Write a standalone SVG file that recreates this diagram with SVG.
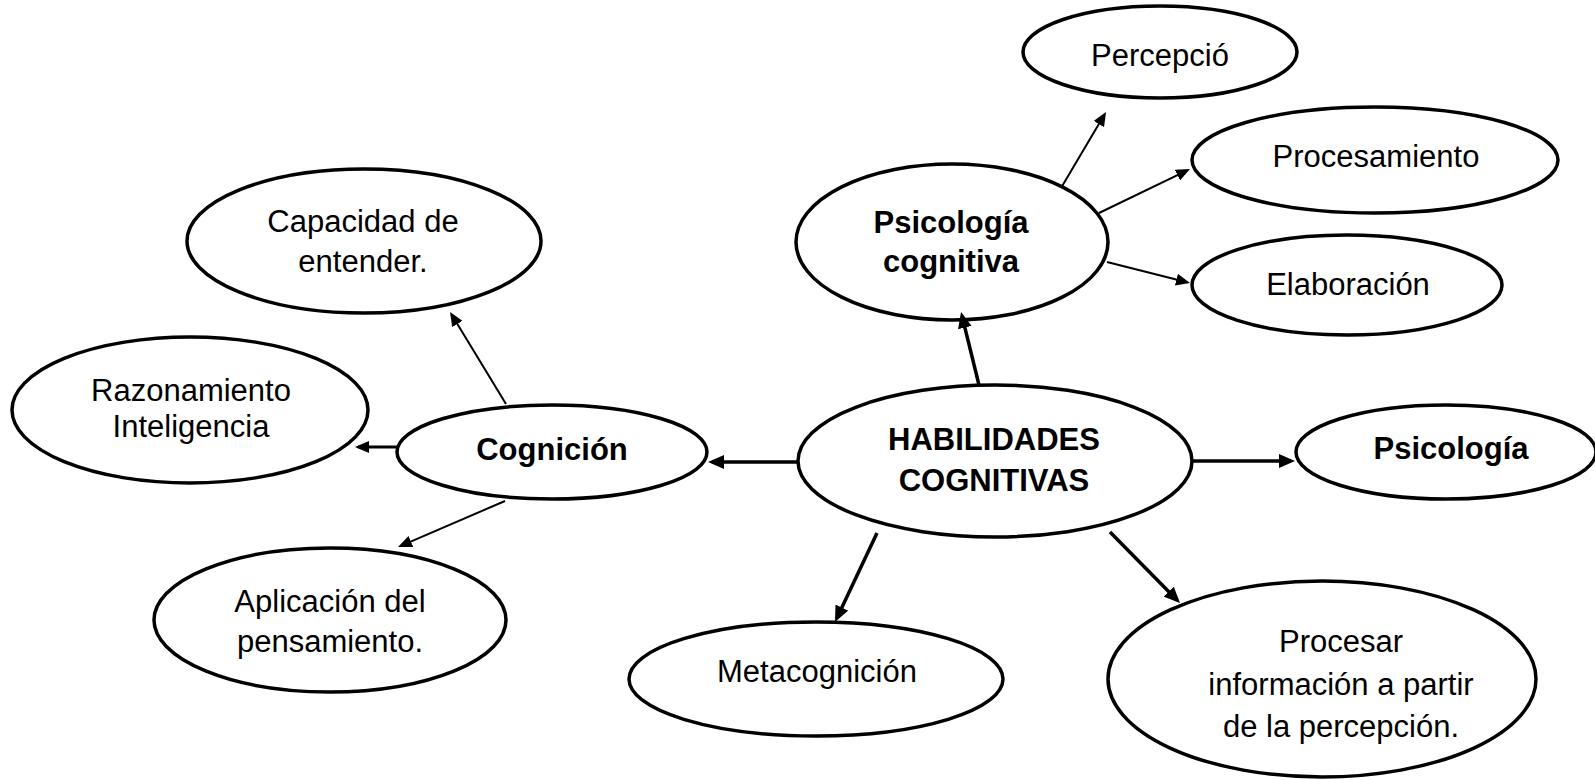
<svg xmlns="http://www.w3.org/2000/svg" width="1595" height="780" viewBox="0 0 1595 780">
<style>
.node ellipse{fill:#fff;stroke:#000;stroke-width:3.5}
text{font-family:"Liberation Sans",Arial,sans-serif;font-size:31px;fill:#000;text-anchor:middle}
.b{font-weight:bold}
.thin{stroke:#000;stroke-width:2;fill:none}
.thick{stroke:#000;stroke-width:3.5;fill:none}
</style>
<defs>
<marker id="ah" markerUnits="userSpaceOnUse" markerWidth="14" markerHeight="12" refX="11" refY="6" orient="auto">
<path d="M0,0 L14,6 L0,12 z" fill="#000"/>
</marker>
<marker id="ahb" markerUnits="userSpaceOnUse" markerWidth="16" markerHeight="14" refX="12" refY="7" orient="auto">
<path d="M0,0 L16,7 L0,14 z" fill="#000"/>
</marker>
</defs>
<rect width="1595" height="780" fill="#fff"/>
<g id="n-percepcio" class="node"><ellipse cx="1160" cy="52" rx="137" ry="46"/><text x="1160" y="66">Percepció</text></g>
<g id="n-procesamiento" class="node"><ellipse cx="1375" cy="160" rx="183" ry="53"/><text x="1376" y="167">Procesamiento</text></g>
<g id="n-psicologia-cognitiva" class="node"><ellipse cx="952" cy="242" rx="156" ry="78"/><text class="b" x="951" y="233">Psicología</text><text class="b" x="951" y="272">cognitiva</text></g>
<g id="n-elaboracion" class="node"><ellipse cx="1347" cy="285" rx="155" ry="50"/><text x="1348" y="295">Elaboración</text></g>
<g id="n-capacidad" class="node"><ellipse cx="364" cy="241" rx="177" ry="72"/><text x="363" y="232">Capacidad de</text><text x="363" y="272">entender.</text></g>
<g id="n-razonamiento" class="node"><ellipse cx="190" cy="410" rx="178" ry="73"/><text x="191" y="401">Razonamiento</text><text x="191" y="437">Inteligencia</text></g>
<g id="n-cognicion" class="node"><ellipse cx="552" cy="452" rx="155" ry="47"/><text class="b" x="552" y="460">Cognición</text></g>
<g id="n-habilidades" class="node"><ellipse cx="995" cy="461" rx="197" ry="76"/><text class="b" x="994" y="450">HABILIDADES</text><text class="b" x="994" y="491">COGNITIVAS</text></g>
<g id="n-psicologia" class="node"><ellipse cx="1446" cy="452" rx="150" ry="47"/><text class="b" x="1451" y="459">Psicología</text></g>
<g id="n-aplicacion" class="node"><ellipse cx="330" cy="620" rx="176" ry="72"/><text x="330" y="612">Aplicación del</text><text x="330" y="652">pensamiento.</text></g>
<g id="n-metacognicion" class="node"><ellipse cx="816" cy="679" rx="187" ry="57"/><text x="817" y="682">Metacognición</text></g>
<g id="n-procesar" class="node"><ellipse cx="1322" cy="679" rx="214" ry="98"/><text x="1341" y="652">Procesar</text><text x="1341" y="695">información a partir</text><text x="1341" y="737">de la percepción.</text></g>
<g id="connectors">
<line class="thin" x1="1061" y1="188" x2="1104.5" y2="114.6" marker-end="url(#ah)"/>
<line class="thin" x1="1099" y1="213" x2="1187.3" y2="170.3" marker-end="url(#ah)"/>
<line class="thin" x1="1107" y1="262" x2="1187.1" y2="282.3" marker-end="url(#ah)"/>
<line class="thin" x1="506" y1="404" x2="451.6" y2="314.6" marker-end="url(#ah)"/>
<line class="thin" x1="505" y1="501" x2="400.8" y2="545.8" marker-end="url(#ah)"/>
<line class="thin" style="stroke-width:3" x1="397" y1="447" x2="358" y2="447" marker-end="url(#ah)"/>
<line class="thick" x1="979" y1="385" x2="962" y2="315.9" marker-end="url(#ahb)"/>
<line class="thick" x1="797" y1="462" x2="712" y2="462" marker-end="url(#ahb)"/>
<line class="thick" x1="1193" y1="461" x2="1291" y2="461" marker-end="url(#ahb)"/>
<line class="thick" x1="877" y1="533" x2="836.7" y2="618.4" marker-end="url(#ahb)"/>
<line class="thick" x1="1110" y1="532" x2="1177.2" y2="600.2" marker-end="url(#ahb)"/>
</g>
</svg>
